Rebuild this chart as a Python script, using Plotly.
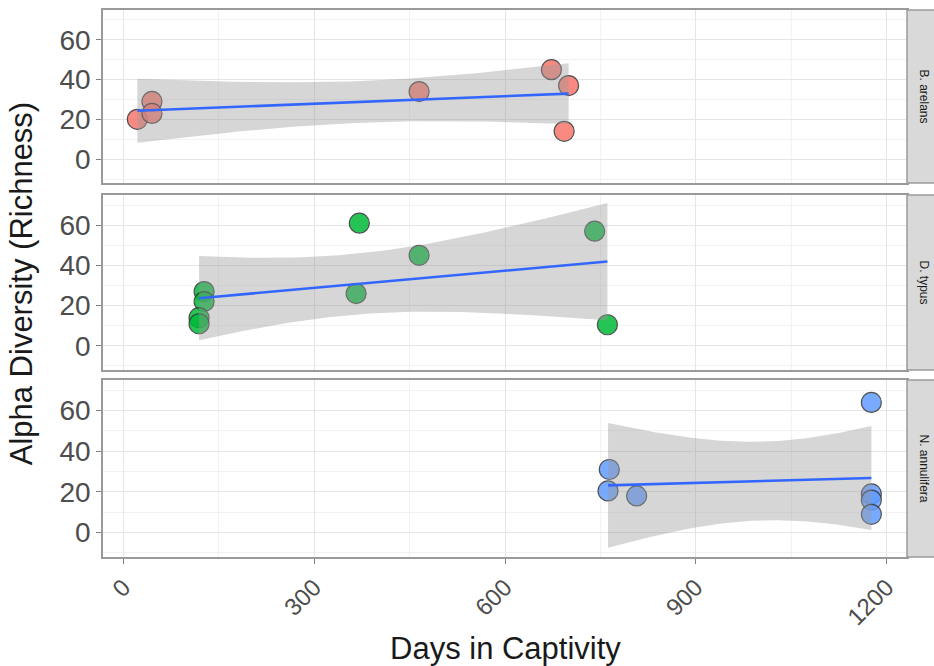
import numpy as np
import plotly.graph_objects as go

# ---- data ----
species = ["B. arelans", "D. typus", "N. annulifera"]
colors = ["#F8766D", "#00BA38", "#619CFF"]

days_b = [22, 45, 45, 465, 673, 700, 693]
rich_b = [20, 29, 23, 34, 45, 37, 14]

days_d = [127, 127, 119, 119, 371, 366, 465, 741, 761]
rich_d = [27, 22, 14, 11, 61, 26, 45, 57, 10.5]

days_n = [764, 762, 807, 1176, 1176, 1176, 1176]
rich_n = [31, 20.5, 18, 64, 19, 16, 9]

x_ticks = [0, 300, 600, 900, 1200]
y_ticks = [0, 20, 40, 60]

groups = [(days_b, rich_b), (days_d, rich_d), (days_n, rich_n)]

T95 = {3: 3.1824, 4: 2.7764, 5: 2.5706, 6: 2.4469, 7: 2.3646, 8: 2.3060,
       9: 2.2622, 10: 2.2281, 11: 2.2010, 12: 2.1788}


def lm_ci(x, y, n_out=80):
    x = np.asarray(x, float)
    y = np.asarray(y, float)
    n = len(x)
    mx = x.mean()
    sxx = ((x - mx) ** 2).sum()
    b = ((x - mx) * (y - y.mean())).sum() / sxx
    a = y.mean() - b * mx
    resid = y - (a + b * x)
    s = np.sqrt((resid ** 2).sum() / (n - 2))
    xs = np.linspace(x.min(), x.max(), n_out)
    fit = a + b * xs
    se = s * np.sqrt(1.0 / n + (xs - mx) ** 2 / sxx)
    t = T95[n - 2]
    return xs, fit, fit - t * se, fit + t * se


fig = go.Figure()

FONT = "Liberation Sans, Arial, sans-serif"

# plot-area geometry
H = 666
top_m, bot_m = 10, 109
ph = H - top_m - bot_m
panels_px = [(10, 183), (195, 370), (380, 557)]
domains = []
for (t, b) in panels_px:
    domains.append([(H - bot_m - b) / ph, (H - bot_m - t) / ph])

for i, ((xd, yd), col, sp) in enumerate(zip(groups, colors, species)):
    ax = "" if i == 0 else str(i + 1)
    xa, ya = "x" + ax, "y" + ax
    # points
    fig.add_trace(go.Scatter(
        x=xd, y=yd, mode="markers", xaxis=xa, yaxis=ya, showlegend=False,
        marker=dict(size=20, color=col, opacity=0.85,
                    line=dict(color="#333333", width=1.2))))
    xs, fit, lo, hi = lm_ci(xd, yd)
    # ribbon
    fig.add_trace(go.Scatter(
        x=np.concatenate([xs, xs[::-1]]), y=np.concatenate([hi, lo[::-1]]),
        fill="toself", fillcolor="rgba(153,153,153,0.4)",
        line=dict(width=0), mode="lines", hoverinfo="skip",
        xaxis=xa, yaxis=ya, showlegend=False))
    # line
    fig.add_trace(go.Scatter(
        x=xs, y=fit, mode="lines", line=dict(color="#3366FF", width=2.6),
        xaxis=xa, yaxis=ya, showlegend=False))

axis_common = dict(
    showline=True, mirror=True, linecolor="#9a9a9a", linewidth=1.5,
    gridcolor="#E5E5E5", gridwidth=1, zeroline=False,
    ticklen=5, tickcolor="#7f7f7f", automargin=False,
)

layout = dict(
    width=934, height=666,
    margin=dict(l=103, r=27, t=top_m, b=bot_m),
    plot_bgcolor="white", paper_bgcolor="white",
    font=dict(family=FONT, color="#4d4d4d"),
)

for i in range(3):
    ax = "" if i == 0 else str(i + 1)
    xkey, ykey = "xaxis" + ax, "yaxis" + ax
    layout[xkey] = dict(
        axis_common, domain=[0, 1], anchor="y" + ax, range=[-32, 1232],
        tickvals=x_ticks, ticktext=[str(v) for v in x_ticks],
        showticklabels=(i == 2), tickangle=-45,
        ticks="outside" if i == 2 else "",
        tickfont=dict(size=24, color="#4d4d4d", family=FONT),
        minor=dict(tickvals=[150, 450, 750, 1050], showgrid=True,
                   gridcolor="#F2F2F2", ticks=""),
    )
    if i > 0:
        layout[xkey]["matches"] = "x"
    layout[ykey] = dict(
        axis_common, domain=domains[i], anchor="x" + ax, range=[-12, 75],
        tickvals=y_ticks, ticktext=[str(v) for v in y_ticks],
        ticks="outside",
        tickfont=dict(size=28, color="#4d4d4d", family=FONT),
        minor=dict(tickvals=[-10, 10, 30, 50, 70], showgrid=True,
                   gridcolor="#F2F2F2", ticks=""),
    )

fig.update_layout(**layout)

shapes = []
annotations = []
strip_w = 40 / 804
for i, sp in enumerate(species):
    ax = "" if i == 0 else str(i + 1)
    shapes.append(dict(type="rect", xref="paper", yref="y" + ax + " domain",
                       x0=1.0, x1=1.0 + strip_w, y0=0, y1=1,
                       fillcolor="#D9D9D9", line=dict(color="#9a9a9a", width=1.5),
                       layer="above"))
    annotations.append(dict(xref="paper", yref="y" + ax + " domain",
                            x=1.0 + 17 / 804, y=0.5, text=sp, showarrow=False,
                            textangle=90, xanchor="center", yanchor="middle",
                            font=dict(size=12, color="#1a1a1a", family=FONT)))

annotations.append(dict(xref="paper", yref="paper", x=-0.101, y=0.5,
                        xanchor="center", yanchor="middle",
                        text="Alpha Diversity (Richness)", textangle=-90,
                        showarrow=False,
                        font=dict(size=31, color="#1a1a1a", family=FONT)))
annotations.append(dict(xref="paper", yref="paper", x=0.5, y=-91 / ph,
                        xanchor="center", yanchor="middle",
                        text="Days in Captivity", showarrow=False,
                        font=dict(size=31, color="#1a1a1a", family=FONT)))

fig.update_layout(shapes=shapes, annotations=annotations)

fig.write_html("out.html")
